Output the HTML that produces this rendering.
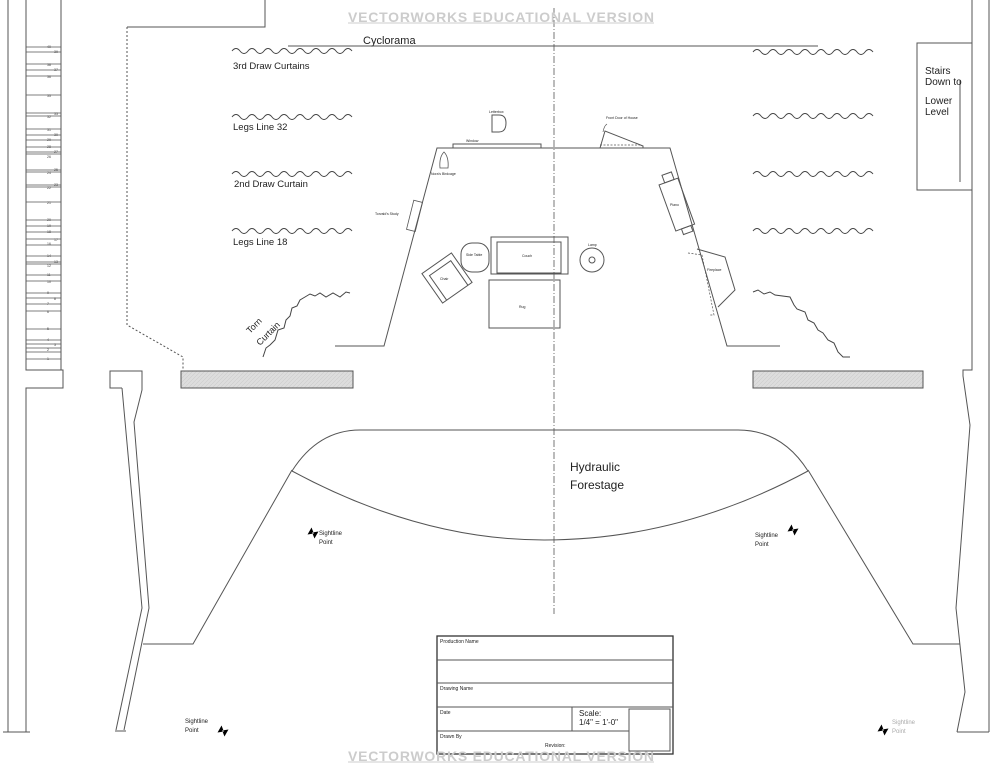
<!DOCTYPE html>
<html><head><meta charset="utf-8"><style>
html,body{margin:0;padding:0;background:#fff;}
svg{display:block;font-family:"Liberation Sans",sans-serif;}
</style></head><body>
<svg width="1003" height="768" viewBox="0 0 1003 768" xmlns="http://www.w3.org/2000/svg">
<defs>
<pattern id="hatch" width="4" height="4" patternUnits="userSpaceOnUse"><rect width="4" height="4" fill="#ddd"/><path d="M0,4 L4,0" stroke="#ccc" stroke-width="0.6"/></pattern>
</defs>
<g fill="none" stroke="#555" stroke-width="1">
<!-- left rail -->
<line x1="8" y1="0" x2="8" y2="732"/>
<polyline points="26,0 26,370 63,370 63,388 26,388 26,732"/>
<line x1="61" y1="0" x2="61" y2="370"/>
<line x1="3" y1="732" x2="30" y2="732"/>
<g stroke-width="0.8">
<line x1="26" y1="47" x2="61" y2="47"/><line x1="26" y1="52" x2="61" y2="52"/>
<line x1="26" y1="64" x2="61" y2="64"/><line x1="26" y1="70" x2="61" y2="70"/><line x1="26" y1="76" x2="61" y2="76"/>
<line x1="26" y1="95" x2="61" y2="95"/><line x1="26" y1="113" x2="61" y2="113"/><line x1="26" y1="116" x2="61" y2="116"/>
<line x1="26" y1="129" x2="61" y2="129"/><line x1="26" y1="135" x2="61" y2="135"/><line x1="26" y1="140" x2="61" y2="140"/>
<line x1="26" y1="147" x2="61" y2="147"/><line x1="26" y1="152" x2="61" y2="152"/><line x1="26" y1="154" x2="61" y2="154"/>
<line x1="26" y1="170" x2="61" y2="170"/><line x1="26" y1="172" x2="61" y2="172"/><line x1="26" y1="185" x2="61" y2="185"/>
<line x1="26" y1="187" x2="61" y2="187"/><line x1="26" y1="202" x2="61" y2="202"/><line x1="26" y1="220" x2="61" y2="220"/>
<line x1="26" y1="226" x2="61" y2="226"/><line x1="26" y1="232" x2="61" y2="232"/><line x1="26" y1="239" x2="61" y2="239"/>
<line x1="26" y1="245" x2="61" y2="245"/><line x1="26" y1="256" x2="61" y2="256"/><line x1="26" y1="262" x2="61" y2="262"/>
<line x1="26" y1="264" x2="61" y2="264"/><line x1="26" y1="275" x2="61" y2="275"/><line x1="26" y1="281" x2="61" y2="281"/>
<line x1="26" y1="293" x2="61" y2="293"/><line x1="26" y1="298" x2="61" y2="298"/><line x1="26" y1="304" x2="61" y2="304"/>
<line x1="26" y1="311" x2="61" y2="311"/><line x1="26" y1="329" x2="61" y2="329"/><line x1="26" y1="340" x2="61" y2="340"/>
<line x1="26" y1="344" x2="61" y2="344"/><line x1="26" y1="348" x2="61" y2="348"/><line x1="26" y1="352" x2="61" y2="352"/>
<line x1="26" y1="359" x2="61" y2="359"/>
</g>
<!-- top-left wall & dotted -->
<polyline points="265,0 265,27 127,27"/>
<polyline points="127,27 127,325 183,357 183,371" stroke-dasharray="2,2"/>
<!-- left proscenium -->
<polyline points="122,388 110,388 110,371 142,371 142,390 134,422 149,608 124,730"/>
<polyline points="122,388 142,608 116,730"/>
<line x1="115" y1="731" x2="126" y2="731"/>
<!-- right proscenium/wall -->
<line x1="989" y1="0" x2="989" y2="732"/>
<polyline points="972,0 972,370 963,370 963,376 970,425 956,608 965,692 957,732"/>
<line x1="957" y1="732" x2="989" y2="732"/>
<!-- gray bars -->
<rect x="181" y="371" width="172" height="17" fill="url(#hatch)"/>
<rect x="753" y="371" width="170" height="17" fill="url(#hatch)"/>
<!-- center line -->
<line x1="554" y1="8" x2="554" y2="614" stroke-dasharray="7,2,1,2" stroke="#777"/>
<!-- stage edges -->
<polyline points="143,644 193,644 292,470"/>
<polyline points="960,644 913,644 808,470"/>
<!-- forestage -->
<path d="M292,471 Q318,430 360,430 L738,430 Q782,430 808,471"/>
<path d="M292,471 Q420,540 544,540 Q680,540 808,471"/>
<!-- cyclorama -->
<line x1="288" y1="46" x2="818" y2="46"/>
<!-- curtains -->
<g stroke="#444">
<path d="M232,51 q4,-5 8,0 t8,0 t8,0 t8,0 t8,0 t8,0 t8,0 t8,0 t8,0 t8,0 t8,0 t8,0 t8,0 t8,0 t8,0"/>
<path d="M232,117 q4,-5 8,0 t8,0 t8,0 t8,0 t8,0 t8,0 t8,0 t8,0 t8,0 t8,0 t8,0 t8,0 t8,0 t8,0 t8,0"/>
<path d="M232,174 q4,-5 8,0 t8,0 t8,0 t8,0 t8,0 t8,0 t8,0 t8,0 t8,0 t8,0 t8,0 t8,0 t8,0 t8,0 t8,0"/>
<path d="M232,231 q4,-5 8,0 t8,0 t8,0 t8,0 t8,0 t8,0 t8,0 t8,0 t8,0 t8,0 t8,0 t8,0 t8,0 t8,0 t8,0"/>
<path d="M753,52 q4,-5 8,0 t8,0 t8,0 t8,0 t8,0 t8,0 t8,0 t8,0 t8,0 t8,0 t8,0 t8,0 t8,0 t8,0 t8,0"/>
<path d="M753,116 q4,-5 8,0 t8,0 t8,0 t8,0 t8,0 t8,0 t8,0 t8,0 t8,0 t8,0 t8,0 t8,0 t8,0 t8,0 t8,0"/>
<path d="M753,174 q4,-5 8,0 t8,0 t8,0 t8,0 t8,0 t8,0 t8,0 t8,0 t8,0 t8,0 t8,0 t8,0 t8,0 t8,0 t8,0"/>
<path d="M753,231 q4,-5 8,0 t8,0 t8,0 t8,0 t8,0 t8,0 t8,0 t8,0 t8,0 t8,0 t8,0 t8,0 t8,0 t8,0 t8,0"/>
<polyline points="263,357 266,348 270,345 275,340 278,330 284,328 286,320 290,316 292,308 297,306 300,300 305,297 310,294 315,296 320,293 326,297 333,293 340,297 346,292 350,293"/>
<polyline points="753,292 758,290 764,294 770,292 775,295 790,297 794,305 797,309 805,312 808,320 814,323 818,330 823,333 828,340 834,343 838,352 843,357 850,357"/>
</g>
<!-- stairs -->
<rect x="917" y="43" width="55" height="147"/>
<line x1="960" y1="182" x2="960" y2="80"/>
<!-- set -->
<polyline points="335,346 384,346 437,148 670,148 727,346 780,346"/>
<rect x="453" y="144" width="88" height="4"/>
<path d="M492,115 L499,115 Q506,115 506,123 Q506,132 499,132 L492,132 Z"/>
<polyline points="600,148 605,131 643,146 643,148"/>
<line x1="600" y1="145" x2="642" y2="145" stroke-dasharray="2,1.5" stroke-width="0.7"/>
<path d="M603,132 q1,-6 4,-8" stroke-width="0.7"/>
<path d="M440,168 Q439,157 444,152 Q449,157 448,168 Z" stroke-width="0.8"/>
<rect x="410" y="201" width="9" height="30" transform="rotate(14 415 216)" stroke-width="0.8"/>
<rect x="491" y="237" width="77" height="37"/>
<rect x="497" y="242" width="64" height="31"/>
<rect x="489" y="280" width="71" height="48"/>
<circle cx="592" cy="260" r="12"/><circle cx="592" cy="260" r="3"/>
<rect x="461" y="243" width="28" height="29" rx="11"/>
<g transform="rotate(-35 447 278)"><rect x="429" y="260" width="36" height="36"/><polyline points="434,296 434,266 460,266 460,296"/></g>
<g transform="rotate(-20 677 205)"><rect x="667" y="180" width="20" height="49"/><rect x="673" y="172" width="10" height="8"/><rect x="673" y="229" width="10" height="6"/></g>
<polyline points="697,249 725,257 735,290 718,307"/>
<polyline points="688,253 702,255 714,315 709,315 Z" stroke-dasharray="2,1.5" stroke-width="0.7"/>
<!-- title block -->
<rect x="437" y="636" width="236" height="118" stroke="#333" stroke-width="1.3"/>
<line x1="437" y1="660" x2="673" y2="660"/>
<line x1="437" y1="683" x2="673" y2="683"/>
<line x1="437" y1="707" x2="673" y2="707"/>
<line x1="437" y1="731" x2="629" y2="731"/>
<line x1="572" y1="707" x2="572" y2="731"/>
<rect x="629" y="709" width="41" height="42"/>
</g>
<!-- sightline markers -->
<g fill="#000">
<path d="M309,529 l5,4 l-5,4 z M317,529 l-5,4 l5,4z" transform="rotate(30 313 533)"/>
<path d="M789,526 l5,4 l-5,4 z M797,526 l-5,4 l5,4z" transform="rotate(30 793 530)"/>
<path d="M219,727 l5,4 l-5,4 z M227,727 l-5,4 l5,4z" transform="rotate(30 223 731)"/>
<path d="M879,726 l5,4 l-5,4 z M887,726 l-5,4 l5,4z" transform="rotate(30 883 730)"/>
</g>
<!-- text -->
<g fill="#222">
<text x="363" y="44" font-size="11">Cyclorama</text>
<text x="233" y="69" font-size="9.5">3rd Draw Curtains</text>
<text x="233" y="130" font-size="9.5">Legs  Line 32</text>
<text x="234" y="187" font-size="9.5">2nd Draw Curtain</text>
<text x="233" y="245" font-size="9.5">Legs  Line 18</text>
<text x="250" y="334" font-size="9" transform="rotate(-45 250 334)">Torn</text>
<text x="260" y="346" font-size="9" transform="rotate(-45 260 346)">Curtain</text>
<text x="925" y="74" font-size="10">Stairs</text>
<text x="925" y="85" font-size="10">Down to</text>
<text x="925" y="104" font-size="10">Lower</text>
<text x="925" y="115" font-size="10">Level</text>
<text x="570" y="471" font-size="12">Hydraulic</text>
<text x="570" y="489" font-size="12">Forestage</text>
<text x="319" y="535" font-size="6">Sightline</text>
<text x="319" y="544" font-size="6">Point</text>
<text x="755" y="537" font-size="6">Sightline</text>
<text x="755" y="546" font-size="6">Point</text>
<text x="185" y="723" font-size="6">Sightline</text>
<text x="185" y="732" font-size="6">Point</text>
<text x="892" y="724" font-size="6" fill="#aaa">Sightline</text>
<text x="892" y="733" font-size="6" fill="#aaa">Point</text>
<g font-size="3.5">
<text x="489" y="113">Letterbox</text><text x="466" y="142">Window</text>
<text x="606" y="119">Front Door of House</text><text x="431" y="175">Nora's Birdcage</text>
<text x="375" y="215">Torvald's Study</text><text x="466" y="256">Side Table</text>
<text x="522" y="257">Couch</text><text x="588" y="246">Lamp</text>
<text x="519" y="308">Rug</text><text x="440" y="280">Chair</text>
<text x="670" y="206">Piano</text><text x="707" y="271">Fireplace</text>
</g>
<g font-size="3.5" fill="#444">
<text x="47" y="48">40</text><text x="54" y="53">39</text><text x="47" y="66">38</text><text x="54" y="71">37</text><text x="47" y="78">36</text>
<text x="47" y="97">35</text><text x="54" y="115">33</text><text x="47" y="118">32</text><text x="47" y="131">31</text><text x="54" y="136">30</text>
<text x="47" y="141">29</text><text x="47" y="148">28</text><text x="54" y="153">27</text><text x="47" y="158">26</text><text x="54" y="171">25</text>
<text x="47" y="174">24</text><text x="54" y="186">23</text><text x="47" y="189">22</text><text x="47" y="204">21</text><text x="47" y="221">20</text>
<text x="47" y="227">19</text><text x="47" y="233">18</text><text x="54" y="241">17</text><text x="47" y="245">16</text><text x="47" y="257">14</text>
<text x="54" y="263">13</text><text x="47" y="267">12</text><text x="47" y="276">11</text><text x="47" y="283">10</text><text x="47" y="294">9</text>
<text x="54" y="300">8</text><text x="47" y="305">7</text><text x="47" y="313">6</text><text x="47" y="330">5</text><text x="47" y="341">4</text>
<text x="54" y="346">3</text><text x="47" y="351">2</text><text x="47" y="360">1</text>
</g>
<g font-size="5">
<text x="440" y="643">Production Name</text>
<text x="440" y="690">Drawing Name</text>
<text x="440" y="714">Date</text>
<text x="440" y="738">Drawn By</text>
<text x="545" y="747">Revision:</text>
</g>
<text x="579" y="716" font-size="8">Scale:</text>
<text x="579" y="725" font-size="8">1/4" = 1'-0"</text>
</g>
<g fill="#ccc" font-size="14" font-weight="bold" text-anchor="middle">
<text x="501" y="22" textLength="306">VECTORWORKS EDUCATIONAL VERSION</text>
<text x="501" y="761" textLength="306">VECTORWORKS EDUCATIONAL VERSION</text>
</g>
<line x1="348" y1="23" x2="654" y2="23" stroke="#ccc"/>
<line x1="348" y1="762" x2="654" y2="762" stroke="#ccc"/>
</svg>
</body></html>
